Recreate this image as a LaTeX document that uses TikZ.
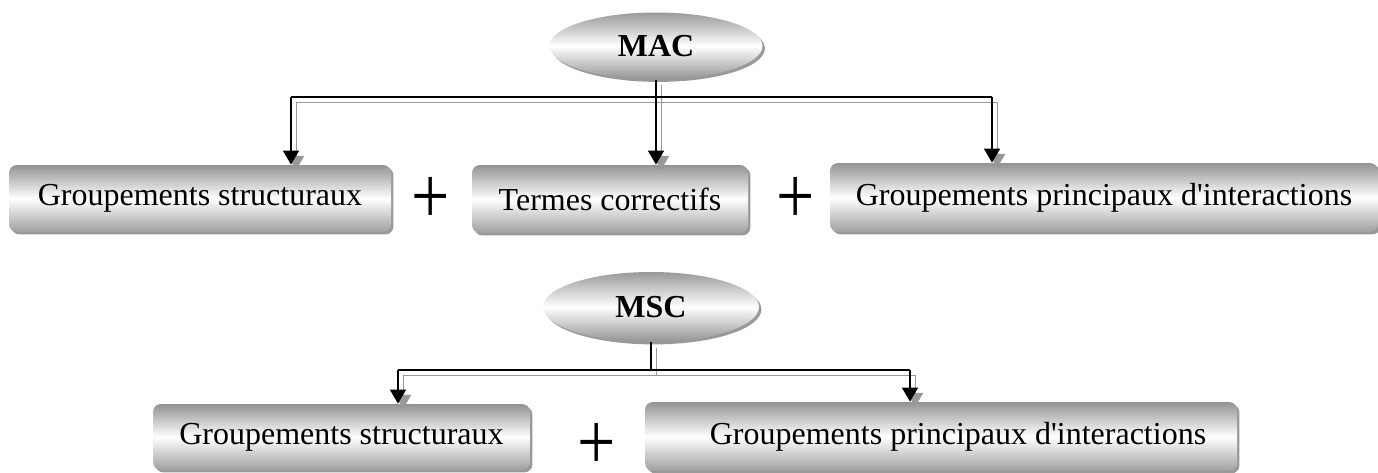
\documentclass[tikz,border=0pt]{standalone}
\usepackage{fontspec}
\setmainfont{Liberation Serif}
\usetikzlibrary{shapes.geometric,shadows,arrows.meta}

\tikzset{
  boite/.style={rounded corners=4pt, inner sep=0pt,
    top color=gray!85, bottom color=gray!75, middle color=white,
    drop shadow={shadow xshift=1.2pt, shadow yshift=-1.2pt, fill=gray, opacity=.8},
    font=\fontsize{16}{19}\selectfont},
  bulle/.style={ellipse, inner sep=0pt,
    top color=gray!80, bottom color=gray!85, middle color=white,
    drop shadow={shadow xshift=1.2pt, shadow yshift=-1.2pt, fill=gray, opacity=.8},
    font=\fontsize{16}{19}\selectfont\bfseries},
  signe/.style={inner sep=0pt, font=\fontsize{34}{40}\selectfont},
  lien/.style={line width=0.7pt},
  fleche/.style={lien, -{Triangle[width=8pt,length=7pt]}},
}

\begin{document}
\begin{tikzpicture}[x=0.5pt, y=-0.5pt]
    \useasboundingbox (0,0) rectangle (1378,472);

    % MAC
    \node [bulle, minimum width=106.5pt, minimum height=33.5pt] (mac) at (656,46) {MAC};
    \node [boite, minimum width=191pt, minimum height=33.5pt] (g1) at (200,198.5) {Groupements structuraux\hspace{8.5pt}};
    \node [signe] (plus1) at (431,200) {\scalebox{1}[1.2]{+}};
    \node [boite, minimum width=138pt, minimum height=34pt] (t2) at (610,199) {Termes correctifs};
    \node [signe] (plus2) at (796,200) {\scalebox{1}[1.2]{+}};
    \node [boite, minimum width=274pt, minimum height=34.5pt] (p3) at (1104,197.5) {Groupements principaux d\textquotesingle interactions};

    % MSC
    \node [bulle, minimum width=108pt, minimum height=35pt] (msc) at (651,307) {MSC};
    \node [boite, minimum width=188.5pt, minimum height=33pt] (g4) at (341.5,437) {Groupements structuraux\hspace{17pt}};
    \node [signe] (plus3) at (597,446) {\scalebox{1}[1.2]{+}};
    \node [boite, minimum width=296pt, minimum height=34.5pt] (p5) at (941,436.5) {\hspace{17pt}Groupements principaux d\textquotesingle interactions};

    \coordinate (busL) at (291,97);
    \coordinate (busR) at (992,97);
    \coordinate (bus2L) at (398,370);
    \coordinate (bus2R) at (910,370);

    % ombre grise puis trait noir
    \foreach \dec/\teinte in {2.6pt/gray!80, 0pt/black}
    {
      \begin{scope}[transform canvas={shift={(\dec,-\dec)}}, color=\teinte]
        \draw [lien] (mac.south) -- (mac.south |- busL);
        \draw [lien] (busL) -- (busR);
        \draw [fleche] (busL) -- (busL |- g1.north);
        \draw [fleche] (mac.south |- busL) -- (mac.south |- t2.north);
        \draw [fleche] (busR) -- (busR |- p3.north);

        \draw [lien] (msc.south) -- (msc.south |- bus2L);
        \draw [lien] (bus2L) -- (bus2R);
        \draw [fleche] (bus2L) -- (bus2L |- g4.north);
        \draw [fleche] (bus2R) -- (bus2R |- p5.north);
      \end{scope}
    }

\end{tikzpicture}
\end{document}
